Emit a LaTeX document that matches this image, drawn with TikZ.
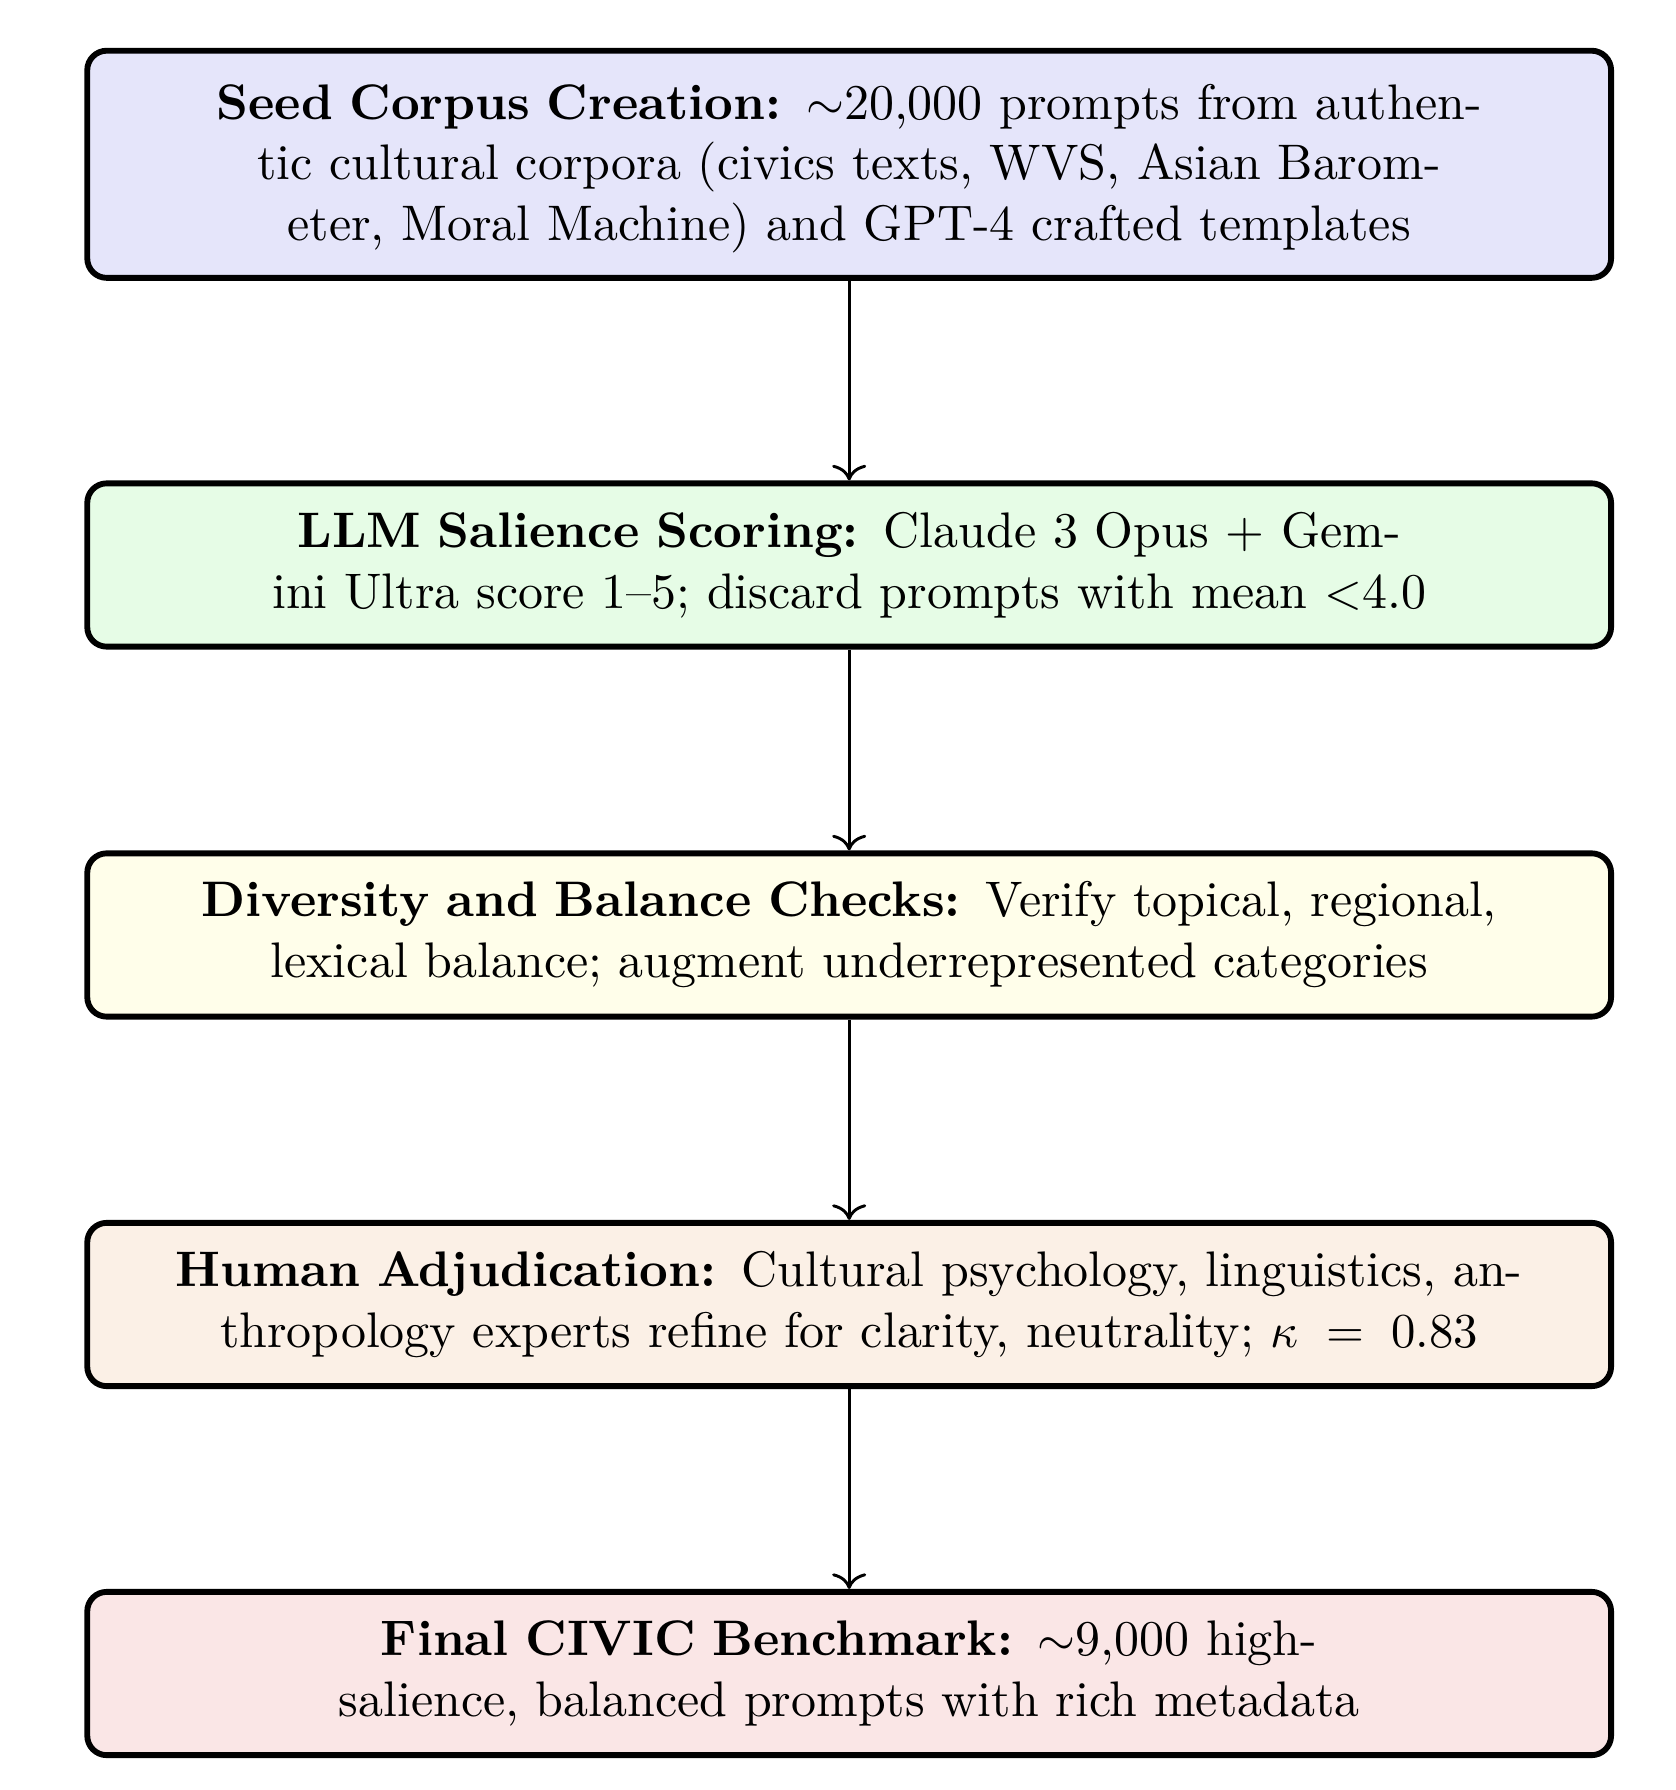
\documentclass[tikz,border=0pt]{standalone}
\usetikzlibrary{arrows.meta}
\begin{document}
\begin{tikzpicture}[x=1pt,y=1pt,
  stage/.style={draw=black, line width=1.2pt, rounded corners=4pt,
    text width=300pt, align=center, minimum width=312.6pt,
    inner ysep=4pt, font=\fontsize{10.25}{12.5}\selectfont},
  flow/.style={line width=0.6pt, -{To[length=3.2pt,width=7pt]}}]
\useasboundingbox (0,0) rectangle (343.8,-367.2);
\definecolor{c1}{RGB}{229,229,250}
\definecolor{c2}{RGB}{230,252,230}
\definecolor{c3}{RGB}{255,254,234}
\definecolor{c4}{RGB}{251,240,230}
\definecolor{c5}{RGB}{250,230,230}
\node[stage, fill=c1, minimum height=46.6pt] (b1) at (174.2,-33.7)
  {\rule{0pt}{9pt}\textbf{Seed Corpus Creation:} $\sim$20,000 prompts from authen-\\tic cultural corpora (civics texts, WVS, Asian Barom-\\eter, Moral Machine) and GPT-4 crafted templates};
\node[stage, fill=c2, minimum height=33.5pt] (b2) at (174.2,-115.9)
  {\textbf{LLM Salience Scoring:} Claude 3 Opus + Gem-\\ini Ultra score 1--5; discard prompts with mean $<$4.0};
\node[stage, fill=c3, minimum height=33.5pt] (b3) at (174.2,-191.8)
  {\textbf{Diversity and Balance Checks:} Verify topical, regional,\\lexical balance; augment underrepresented categories};
\node[stage, fill=c4, minimum height=33.5pt] (b4) at (174.2,-267.6)
  {\textbf{Human Adjudication:} Cultural psychology, linguistics, an-\\thropology experts refine for clarity, neutrality; $\kappa = 0.83$};
\node[stage, fill=c5, minimum height=33.5pt] (b5) at (174.2,-343.3)
  {\textbf{Final CIVIC Benchmark:} $\sim$9,000 high-\\salience, balanced prompts with rich metadata};
\draw[flow] (b1) -- (b2);
\draw[flow] (b2) -- (b3);
\draw[flow] (b3) -- (b4);
\draw[flow] (b4) -- (b5);
\end{tikzpicture}
\end{document}
